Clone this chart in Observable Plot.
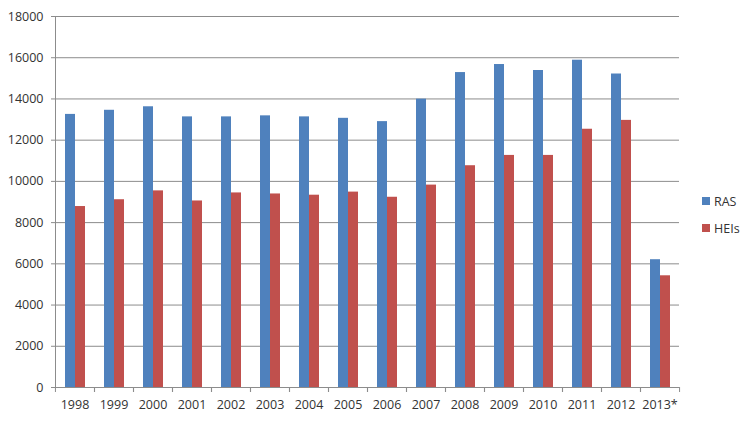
<!DOCTYPE html>
<html>
<head>
<meta charset="utf-8">
<script src="https://cdn.jsdelivr.net/npm/d3@7"></script>
<script src="https://cdn.jsdelivr.net/npm/@observablehq/plot@0.6"></script>
<style>
  html, body { margin: 0; padding: 0; background: #fff; }
  #wrap { position: relative; width: 750px; height: 421px; font-family: "Open Sans", sans-serif; }
  #legend { position: absolute; left: 702px; top: 193px; font-size: 12.5px; color: #333; }
  .item { display: flex; align-items: center; height: 16px; margin-bottom: 11px; }
  .sw { width: 8px; height: 8px; margin-right: 4px; }
</style>
</head>
<body>
<div id="wrap"><div id="legend"></div></div>
<script>
const years = ["1998","1999","2000","2001","2002","2003","2004","2005","2006","2007","2008","2009","2010","2011","2012","2013*"];
const ras  = [13250,13450,13620,13130,13130,13180,13130,13060,12900,13990,15280,15670,15380,15880,15210,6200];
const heis = [8780,9110,9540,9050,9440,9390,9330,9480,9230,9820,10760,11260,11260,12530,12960,5420];
const seriesNames = ["RAS","HEIs"];
const colors = ["#4F81BD","#C0504D"];
const yTicks = [0,2000,4000,6000,8000,10000,12000,14000,16000,18000];

const table = [];
years.forEach((y, i) => {
  table.push({year: y, series: "RAS", value: ras[i]});
  table.push({year: y, series: "HEIs", value: heis[i]});
});

const W = 750, ML = 54, MR = 70;
const step = (W - ML - MR) / years.length;
const gridColor = "#8c8c8c";

const chart = Plot.plot({
  width: W, height: 421,
  marginLeft: ML, marginRight: MR, marginTop: 16, marginBottom: 34,
  style: {fontFamily: "Open Sans, sans-serif", fontSize: "12.5px", color: "#333", background: "transparent"},
  fx: {domain: years, padding: 0, label: null, axis: null},
  x: {domain: seriesNames, paddingInner: 0, paddingOuter: 0.78, axis: null},
  y: {domain: [0, 18000], axis: null},
  color: {domain: seriesNames, range: colors},
  marks: [
    Plot.gridY(yTicks, {stroke: gridColor, strokeOpacity: 1}),
    Plot.barY(table, {fx: "year", x: "series", y: "value", fill: "series"}),
    Plot.ruleY([0], {stroke: gridColor}),
    Plot.frame({anchor: "left", stroke: gridColor, facet: "super"}),
    Plot.axisY(yTicks, {tickSize: 4, tickPadding: 8, tickFormat: d => String(d), stroke: gridColor, fill: "#333", label: null}),
    Plot.axisFx({anchor: "bottom", tickSize: 5, fill: "none", dx: -step / 2, stroke: gridColor, label: null}),
    Plot.axisFx({anchor: "bottom", tickSize: 5, fill: "none", dx: step / 2, stroke: gridColor, label: null}),
    Plot.axisFx({anchor: "bottom", tickSize: 0, tickPadding: 13, label: null, fill: "#333"})
  ]
});
document.getElementById("wrap").prepend(chart);

const legend = document.getElementById("legend");
seriesNames.forEach((s, i) => {
  const it = document.createElement("div");
  it.className = "item";
  const sw = document.createElement("div");
  sw.className = "sw";
  sw.style.background = colors[i];
  const t = document.createElement("span");
  t.textContent = s;
  it.appendChild(sw); it.appendChild(t);
  legend.appendChild(it);
});
</script>
</body>
</html>
